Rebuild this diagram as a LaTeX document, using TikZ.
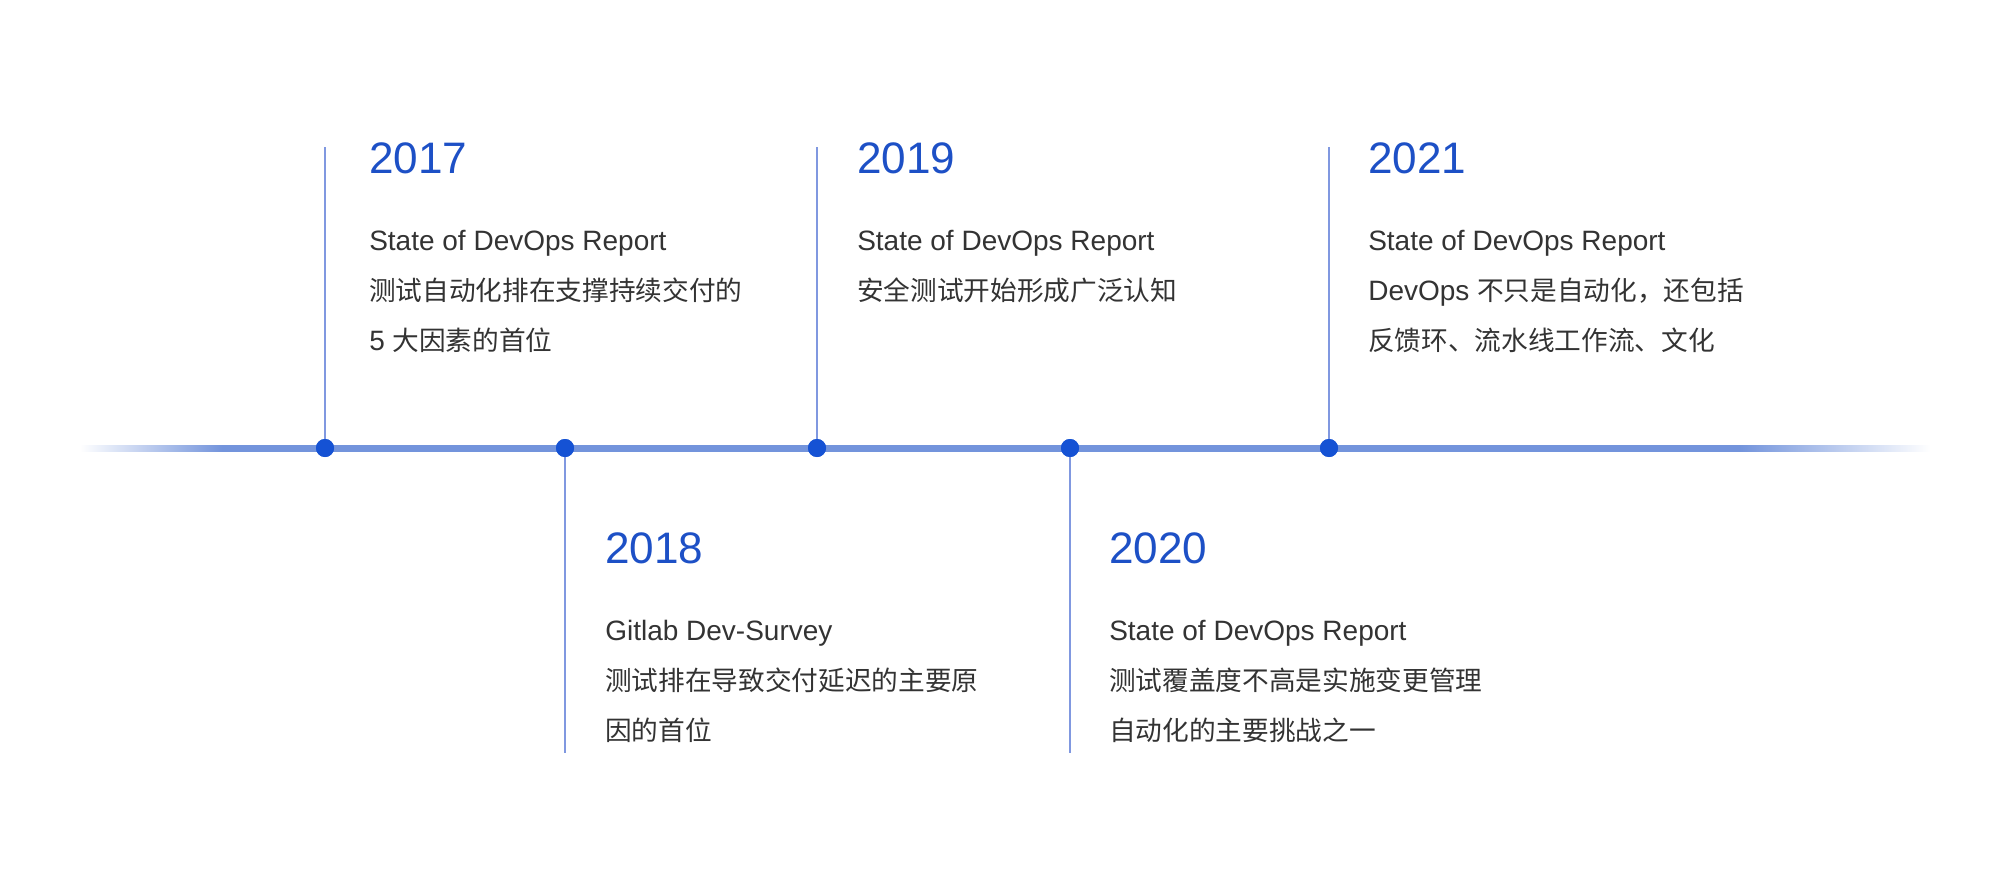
\documentclass[tikz,border=0pt]{standalone}
\usepackage{fontspec}
\usepackage{tikz}
\setmainfont{Liberation Sans}[Scale=1.05]
\newfontfamily\cjk{Noto Sans CJK SC}
\definecolor{tlline}{HTML}{7394DC}
\definecolor{tlstem}{HTML}{8098E0}
\definecolor{tldot}{HTML}{1552D4}
\definecolor{tlyear}{HTML}{1D50C6}
\definecolor{tltext}{HTML}{333333}
\pgfdeclarehorizontalshading{axisfade}{100bp}{color(0bp)=(white); color(25bp)=(white);
  color(28.84bp)=(tlline); color(69.86bp)=(tlline); color(75bp)=(white); color(100bp)=(white)}

\begin{document}
\begin{tikzpicture}[
  x=0.75pt, y=-0.75pt,
  dot/.style={circle, fill=tldot, inner sep=0pt, minimum size=13.5pt},
  stem/.style={draw=tlstem, line width=1.5pt},
  year/.style={anchor=base west, inner sep=0pt, text=tlyear, font=\fontsize{31.5}{31.5}\selectfont},
  body/.style={anchor=base west, inner sep=0pt, text=tltext, font=\fontsize{20}{20}\selectfont}
]
\fill[white] (0,0) rectangle (1990,870);
\useasboundingbox (0,0) rectangle (1990,870);

% main axis
\shade[shading=axisfade] (80,445) rectangle (1930,451);

% stems and dots
\coordinate (top2017) at (325,147);
\coordinate (bot2018) at (565,753);
\coordinate (top2019) at (817,147);
\coordinate (bot2020) at (1070,753);
\coordinate (top2021) at (1329,147);
\node[dot] (d2017) at (325,448) {};
\node[dot] (d2018) at (565,448) {};
\node[dot] (d2019) at (817,448) {};
\node[dot] (d2020) at (1070,448) {};
\node[dot] (d2021) at (1329,448) {};
\draw[stem] (d2017.center) -- (top2017);
\draw[stem] (d2018.center) -- (bot2018);
\draw[stem] (d2019.center) -- (top2019);
\draw[stem] (d2020.center) -- (bot2020);
\draw[stem] (d2021.center) -- (top2021);
\foreach \d in {d2017,d2018,d2019,d2020,d2021} \node[dot] at (\d) {};

% 2017
\node[year] (y2017) at (369,173) {2017};
\node[body] (s2017) at (369,250) {State of DevOps Report};
\node[body] (a2017) at (369,300) {\cjk 测试自动化排在支撑持续交付的};
\node[body] (b2017) at (369,350) {5 {\cjk 大因素的首位}};

% 2018
\node[year] (y2018) at (605,563) {2018};
\node[body] (s2018) at (605,640) {Gitlab Dev-Survey};
\node[body] (a2018) at (605,690) {\cjk 测试排在导致交付延迟的主要原};
\node[body] (b2018) at (605,740) {\cjk 因的首位};

% 2019
\node[year] (y2019) at (857,173) {2019};
\node[body] (s2019) at (857,250) {State of DevOps Report};
\node[body] (a2019) at (857,300) {\cjk 安全测试开始形成广泛认知};

% 2020
\node[year] (y2020) at (1109,563) {2020};
\node[body] (s2020) at (1109,640) {State of DevOps Report};
\node[body] (a2020) at (1109,690) {\cjk 测试覆盖度不高是实施变更管理};
\node[body] (b2020) at (1109,740) {\cjk 自动化的主要挑战之一};

% 2021
\node[year] (y2021) at (1368,173) {2021};
\node[body] (s2021) at (1368,250) {State of DevOps Report};
\node[body] (a2021) at (1368,300) {DevOps {\cjk 不只是自动化，还包括}};
\node[body] (b2021) at (1368,350) {\cjk 反馈环、流水线工作流、文化};
\end{tikzpicture}
\end{document}
